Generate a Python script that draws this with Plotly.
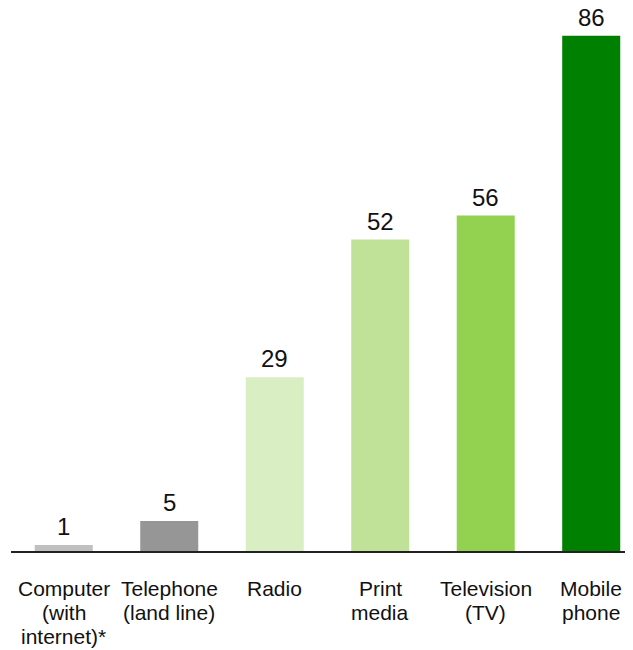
import plotly.graph_objects as go

categories = ["Computer<br>(with<br>internet)*", "Telephone<br>(land line)", "Radio",
              "Print<br>media", "Television<br>(TV)", "Mobile<br>phone"]
values = [1, 5, 29, 52, 56, 86]
colors = ["#c0c0c0", "#969696", "#d9eec3", "#c0e298", "#93d251", "#008000"]

FONT = "Liberation Sans, Arial"

fig = go.Figure()
fig.add_trace(go.Bar(
    x=list(range(len(categories))), y=values,
    marker=dict(color=colors, line=dict(width=0)),
    width=0.55, hoverinfo="skip",
))
for i, v in enumerate(values):
    fig.add_annotation(x=i, y=v, text=str(v), showarrow=False,
                       yanchor="bottom", yshift=4, borderpad=0,
                       font=dict(family=FONT, size=24, color="#111111"))

# category labels, one line each, with tight line spacing like the reference
for i, cat in enumerate(categories):
    for k, line in enumerate(cat.split("<br>")):
        fig.add_annotation(x=i, xref="x", y=0, yref="paper", text=line,
                           showarrow=False, yanchor="middle",
                           yshift=-(37 + 24 * k),
                           font=dict(family=FONT, size=21, color="#111111"))

fig.update_layout(
    width=625, height=642,
    margin=dict(l=3, r=0, t=0, b=99),
    plot_bgcolor="white", paper_bgcolor="white",
    showlegend=False,
    font=dict(family=FONT, size=21, color="#111111"),
    xaxis=dict(
        range=[-0.5, 5.396], showline=True, linecolor="#222222", linewidth=1.5,
        showgrid=False, zeroline=False, ticks="", showticklabels=False,
    ),
    yaxis=dict(range=[0, 90.65], visible=False, showgrid=False, zeroline=False),
)
fig.write_html("out.html")
